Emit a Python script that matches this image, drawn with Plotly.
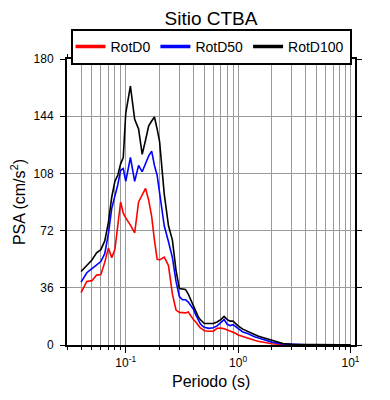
import plotly.graph_objects as go

periods = [0.04, 0.045, 0.05, 0.055, 0.06, 0.065, 0.07, 0.075, 0.08, 0.085, 0.09, 0.095,
           0.10, 0.11, 0.12, 0.13, 0.14, 0.15, 0.16, 0.17, 0.18, 0.19, 0.20, 0.22, 0.24,
           0.26, 0.28, 0.30, 0.32, 0.34, 0.36, 0.38, 0.40, 0.42, 0.44, 0.46, 0.48, 0.50,
           0.55, 0.60, 0.65, 0.70, 0.75, 0.80, 0.85, 0.90, 0.95, 1.0, 1.1, 1.2, 1.3, 1.4,
           1.5, 1.6, 1.8, 2.0, 2.5, 3.0, 4.0, 5.0, 6.0, 7.0, 8.0, 10.0]

rotd100 = [46.3, 50, 53.5, 58, 60, 65.5, 77, 93, 103, 107, 114, 118,
           146, 163, 142, 136, 120, 129, 138, 141, 143.5, 136, 128, 95, 75,
           66, 47, 35.5, 35, 35, 32, 28, 24.5, 21, 18, 16, 14.5, 13.5,
           13.5, 13.5, 14.5, 16, 18, 16, 15, 15, 13.5, 12, 10, 8.7, 7.5, 6.5,
           5.6, 5, 3.8, 2.7, 0.9, 0.5, 0.25, 0.15, 0.1, 0.08, 0.06, 0.05]

rotd50 = [39.6, 45.5, 48, 50.5, 52.5, 57.5, 70, 86, 93.5, 101, 110, 111,
          103, 118, 103, 113, 109, 114, 119, 122, 113, 107, 95, 75, 65,
          55, 40, 30.5, 28.5, 28.5, 27, 24.5, 22.5, 19, 16, 13.5, 12, 11.2,
          10.5, 10.8, 12, 13.8, 16, 13, 12.2, 12.8, 11.5, 10, 8.2, 7.4, 6, 5.2,
          4.5, 3.9, 2.9, 1.8, 0.7, 0.35, 0.2, 0.12, 0.08, 0.06, 0.05, 0.04]

rotd0 = [32.9, 40, 40.5, 44, 44.3, 52, 61, 55, 60, 74, 90, 83,
         80, 75.5, 70.5, 90, 94.4, 98.5, 91, 81, 66, 54, 53.6, 55.3, 50,
         32, 22, 20.5, 20.4, 20.2, 20.8, 18, 16, 14.5, 12.5, 10.8, 10, 9,
         8.7, 8.7, 10.5, 10.6, 10.2, 9.5, 8.7, 8, 7.4, 6.3, 5.5, 4.5, 3.8, 3,
         2.4, 2, 1.3, 0.8, 0.3, 0.2, 0.1, 0.07, 0.05, 0.04, 0.03, 0.02]

series = [("RotD0", rotd0, "#ff0000"), ("RotD50", rotd50, "#0000ff"), ("RotD100", rotd100, "#000000")]

x_tickvals = [0.1, 1, 10]
x_ticktext = ["10<sup>-1</sup>", "10<sup>0</sup>", "10<sup>1</sup>"]
y_tickvals = [0, 36, 72, 108, 144, 180]

FONT = "Liberation Sans, Arial, Helvetica, sans-serif"

fig = go.Figure()
for name, vals, col in series:
    fig.add_trace(go.Scatter(x=periods, y=vals, mode="lines", name=name, showlegend=False,
                             legendgroup=name, line=dict(color=col, width=1.6)))
# legend entries (thicker sample lines, no data drawn)
for name, vals, col in series:
    fig.add_trace(go.Scatter(x=[None], y=[None], mode="lines", name=name,
                             legendgroup=name, line=dict(color=col, width=3.5)))

# page body adds an 8px offset; layout sized to compensate
fig.update_layout(
    width=382, height=392,
    margin=dict(l=59, r=35, t=50.5, b=54.5, autoexpand=False),
    paper_bgcolor="white", plot_bgcolor="white",
    font=dict(family=FONT, size=13, color="black"),
    title=dict(text="Sitio CTBA", x=0.5, xref="paper", xanchor="center", y=0.973,
               yanchor="middle", yref="container", font=dict(size=19, family=FONT)),
    legend=dict(orientation="h", x=0.5, xanchor="center", y=1.105, yanchor="top",
                bordercolor="black", borderwidth=2, bgcolor="white",
                font=dict(size=14, family=FONT), itemwidth=30, tracegroupgap=0),
    showlegend=True,
    annotations=[dict(text="Periodo (s)", xref="paper", yref="paper", x=0.5, y=-0.127,
                      xanchor="center", yanchor="middle", showarrow=False,
                      font=dict(size=16, family=FONT))],
)

fig.update_xaxes(type="log", range=[-1.523, 1.04],
                 tickmode="array", tickvals=x_tickvals, ticktext=x_ticktext,
                 ticks="outside", ticklen=6, tickwidth=1, tickcolor="black",
                 showline=True, linewidth=2, linecolor="black", mirror="ticks",
                 showgrid=True, gridcolor="#9a9a9a", gridwidth=1,
                 minor=dict(dtick="D1", ticks="outside", ticklen=3, tickcolor="black",
                            showgrid=True, gridcolor="#9a9a9a", gridwidth=1),
                 tickfont=dict(size=12), zeroline=False, automargin=False)

fig.update_yaxes(range=[0, 180], tickmode="array", tickvals=y_tickvals,
                 ticks="outside", ticklen=5, tickwidth=1, tickcolor="black",
                 showline=True, linewidth=2, linecolor="black", mirror="ticks",
                 showgrid=True, gridcolor="#9a9a9a", gridwidth=1, ticklabelstandoff=4,
                 title=dict(text="PSA (cm/s<sup>2</sup>)", font=dict(size=16)),
                 tickfont=dict(size=12), zeroline=False, automargin=False)

fig.write_html("out.html")
